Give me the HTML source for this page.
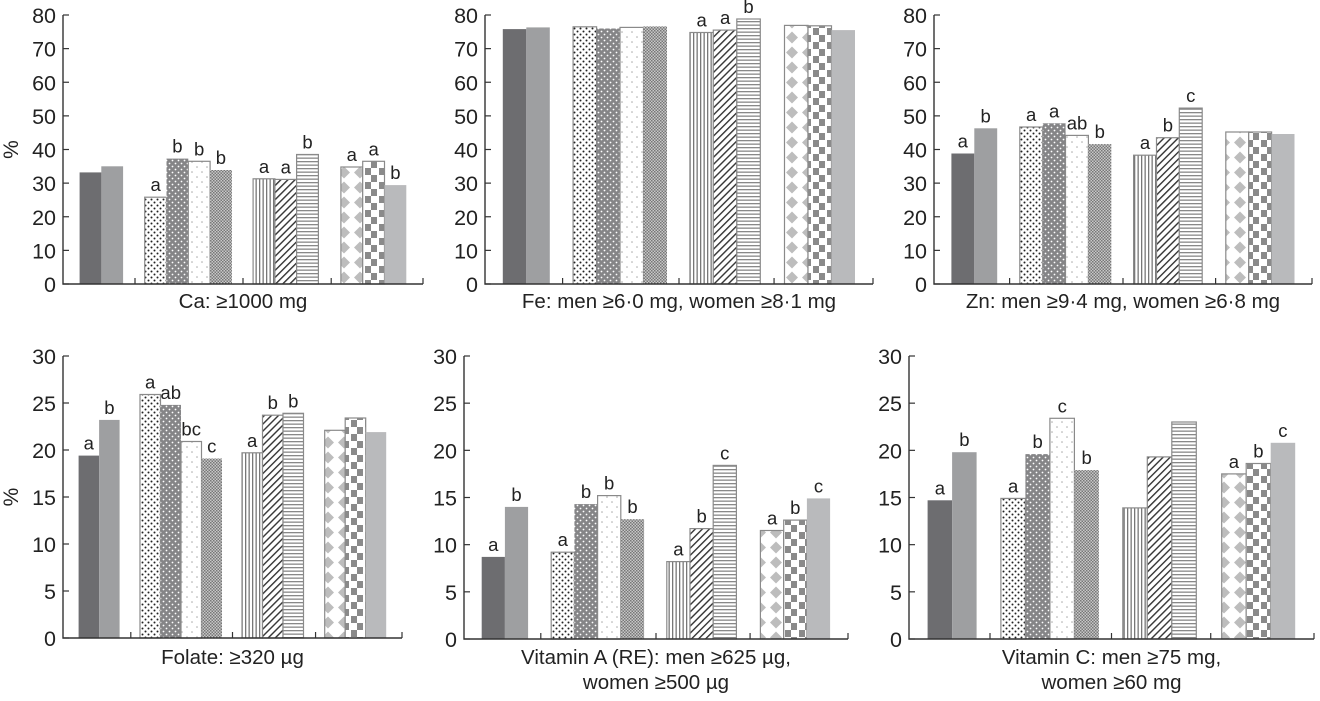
<!DOCTYPE html>
<html><head><meta charset="utf-8">
<style>
html,body{margin:0;padding:0;background:#fff;}
svg{display:block;font-family:"Liberation Sans",Arial,sans-serif;}
</style></head>
<body>
<svg id="chart" width="1320" height="701" viewBox="0 0 1320 701" xmlns="http://www.w3.org/2000/svg">
<defs>
<pattern id="p3" width="6" height="6" patternUnits="userSpaceOnUse"><rect width="6" height="6" fill="#fff"/><circle cx="1.5" cy="1.5" r="1" fill="#222"/><circle cx="4.5" cy="4.5" r="1" fill="#222"/></pattern>
<pattern id="p4" width="6" height="6" patternUnits="userSpaceOnUse"><rect width="6" height="6" fill="#858587"/><circle cx="1.5" cy="1.5" r="0.9" fill="#fff"/><circle cx="4.5" cy="4.5" r="0.9" fill="#fff"/></pattern>
<pattern id="p5" width="10" height="10" patternUnits="userSpaceOnUse"><rect width="10" height="10" fill="#fff"/><circle cx="2" cy="2" r="0.8" fill="#aaa"/><circle cx="7" cy="7" r="0.8" fill="#aaa"/></pattern>
<pattern id="p6" width="3" height="3" patternUnits="userSpaceOnUse"><rect width="3" height="3" fill="#c8c8c8"/><rect width="1.5" height="1.5" fill="#777"/><rect x="1.5" y="1.5" width="1.5" height="1.5" fill="#777"/></pattern>
<pattern id="p7" width="3.5" height="4" patternUnits="userSpaceOnUse"><rect width="3.5" height="4" fill="#fff"/><rect width="1.3" height="4" fill="#777"/></pattern>
<pattern id="p8" width="5" height="5" patternUnits="userSpaceOnUse" patternTransform="rotate(45)"><rect width="5" height="5" fill="#fff"/><rect width="1.4" height="5" fill="#333"/></pattern>
<pattern id="p9" width="4" height="3.5" patternUnits="userSpaceOnUse"><rect width="4" height="3.5" fill="#fff"/><rect width="4" height="1.3" fill="#888"/></pattern>
<pattern id="p10" width="16" height="15" patternUnits="userSpaceOnUse"><rect width="16" height="15" fill="#fff"/><polygon points="8,1.5 14,7.5 8,13.5 2,7.5" fill="#bdbdbd"/></pattern>
<pattern id="p11" width="14" height="14" patternUnits="userSpaceOnUse"><rect width="14" height="14" fill="#fff"/><rect x="1" y="0" width="6" height="7" fill="#8a8a8a"/><rect x="7" y="7" width="6" height="7" fill="#8a8a8a"/></pattern>
</defs>
</svg>
<script>
const caValues=[33.2,35.0,25.8,37.3,36.5,33.9,31.3,31.1,38.5,34.8,36.5,29.4];
const caLetters=['','','a','b','b','b','a','a','b','a','a','b'];
const feValues=[75.8,76.3,76.5,76.0,76.3,76.6,74.8,75.5,78.8,76.9,76.8,75.5];
const feLetters=['','','','','','','a','a','b','','',''];
const znValues=[38.8,46.3,46.7,47.8,44.2,41.6,38.3,43.5,52.3,45.2,45.2,44.6];
const znLetters=['a','b','a','a','ab','b','a','b','c','','',''];
const folateValues=[19.4,23.2,25.9,24.8,20.9,19.1,19.7,23.7,23.9,22.1,23.4,21.9];
const folateLetters=['a','b','a','ab','bc','c','a','b','b','','',''];
const vitAValues=[8.7,14.0,9.2,14.3,15.2,12.7,8.2,11.7,18.4,11.5,12.6,14.9];
const vitALetters=['a','b','a','b','b','b','a','b','c','a','b','c'];
const vitCValues=[14.7,19.8,14.9,19.6,23.4,17.9,13.9,19.3,23.0,17.5,18.6,20.8];
const vitCLetters=['a','b','a','b','c','b','','','','a','b','c'];
const topTicks=[0,10,20,30,40,50,60,70,80];
const bottomTicks=[0,5,10,15,20,25,30];

const NS='http://www.w3.org/2000/svg';
const svg=document.getElementById('chart');
const fills=['#6d6d70','#9e9fa1','url(#p3)','url(#p4)','url(#p5)','url(#p6)','url(#p7)','url(#p8)','url(#p9)','url(#p10)','url(#p11)','#b9babc'];
const outlined=[false,false,true,false,true,false,true,true,true,true,true,false];
const groupOf=[0,0,1,1,1,1,2,2,2,3,3,3];
const groupStart=[0.046,0.227,0.528,0.772];
const idxInGroup=[0,1,0,1,2,3,0,1,2,0,1,2];
const dividers=[0.2,0.5,0.745,1.0];

function mk(tag,attrs,parent){const e=document.createElementNS(NS,tag);for(const k in attrs)e.setAttribute(k,attrs[k]);(parent||svg).appendChild(e);return e;}

const panels=[
 {name:'calcium',values:caValues,letters:caLetters,ticks:topTicks,max:80,x0:63,x1:423,y0:284,yTop:15,title:['Ca: ≥1000 mg'],titleY:308,pct:true},
 {name:'iron',values:feValues,letters:feLetters,ticks:topTicks,max:80,x0:485,x1:873,y0:284,yTop:15,title:['Fe: men ≥6·0 mg, women ≥8·1 mg'],titleY:308},
 {name:'zinc',values:znValues,letters:znLetters,ticks:topTicks,max:80,x0:934,x1:1312,y0:284,yTop:15,title:['Zn: men ≥9·4 mg, women ≥6·8 mg'],titleY:308},
 {name:'folate',values:folateValues,letters:folateLetters,ticks:bottomTicks,max:30,x0:63,x1:402,y0:638,yTop:356,title:['Folate: ≥320 µg'],titleY:664,pct:true},
 {name:'vitamin-a',values:vitAValues,letters:vitALetters,ticks:bottomTicks,max:30,x0:464,x1:848,y0:639,yTop:356,title:['Vitamin A (RE): men ≥625 µg,','women ≥500 µg'],titleY:664},
 {name:'vitamin-c',values:vitCValues,letters:vitCLetters,ticks:bottomTicks,max:30,x0:909,x1:1314,y0:639,yTop:356,title:['Vitamin C: men ≥75 mg,','women ≥60 mg'],titleY:664}
];

panels.forEach(p=>{
  const g=mk('g',{});
  
  
  const W=p.x1-p.x0;
  const yS=v=>p.y0-(v/p.max)*(p.y0-p.yTop);
  const bw=W*0.0605;
  p.values.forEach((v,i)=>{
    const x=p.x0+W*groupStart[groupOf[i]]+idxInGroup[i]*bw;
    const y=yS(v);
    const r=mk('rect',{x:x.toFixed(1),y:y.toFixed(1),width:bw.toFixed(1),height:(p.y0-y).toFixed(1),fill:fills[i],stroke:outlined[i]?'#8a8a8a':'none','stroke-width':outlined[i]?1.2:0},g);
    
    
    if(p.letters[i]){
      const t=mk('text',{x:(x+bw/2).toFixed(1),y:(y-6).toFixed(1),'text-anchor':'middle','font-size':18.5,fill:'#222'},g);
      t.textContent=p.letters[i];
      
      
    }
  });
  const ax=mk('path',{d:`M${p.x0},${p.yTop} V${p.y0} H${p.x1}`,stroke:'#333','stroke-width':1.4,fill:'none'},g);
  
  
  dividers.forEach(d=>{const x=p.x0+W*d;mk('line',{x1:x,x2:x,y1:p.y0,y2:p.y0-6,stroke:'#333','stroke-width':1.2},g);});
  p.ticks.forEach(t=>{
    const y=yS(t);
    mk('line',{x1:p.x0,x2:p.x0+6,y1:y,y2:y,stroke:'#333','stroke-width':1.2},g);
    const tx=mk('text',{x:p.x0-7,y:y+8,'text-anchor':'end','font-size':21.5,fill:'#222'},g);
    tx.textContent=t;
    
    
  });
  p.title.forEach((line,k)=>{
    const tt=mk('text',{x:p.x0+W/2,y:p.titleY+k*25,'text-anchor':'middle','font-size':20.5,fill:'#222'},g);
    tt.textContent=line;
    
    
  });
  if(p.pct){
    const cy=(p.y0+p.yTop)/2;
    const pt=mk('text',{x:18,y:cy,'text-anchor':'middle','font-size':21,fill:'#222',transform:`rotate(-90 18 ${cy})`},g);
    pt.textContent='%';
    
    
  }
});
</script>
</body></html>
